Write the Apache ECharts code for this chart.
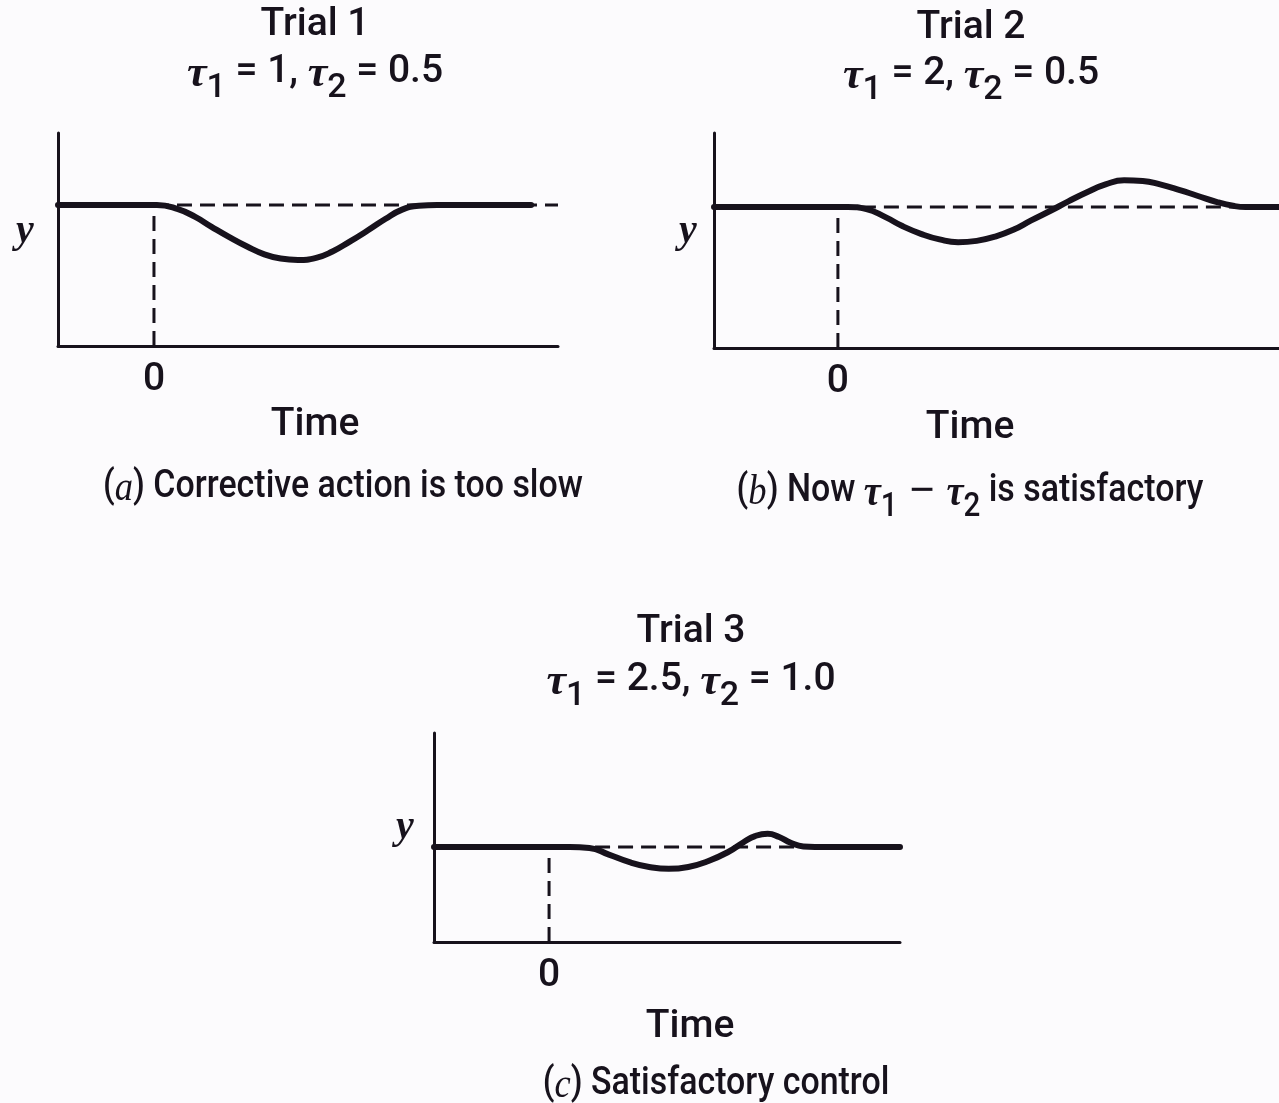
<!DOCTYPE html>
<html>
<head>
<meta charset="utf-8">
<title>Trial responses</title>
<script src="https://cdn.jsdelivr.net/npm/echarts@6/dist/echarts.min.js"></script>
<style>
html, body { margin: 0; padding: 0; background: #fcfbfd; }
#chart { width: 1279px; height: 1103px; }
</style>
</head>
<body>
<div id="chart"></div>
<script>
/* 数据：三次试验的响应曲线（设定值 = 0） */
var timeA = [-1, 0, 0.03, 0.25, 0.43, 0.6, 0.79, 0.97, 1.15, 1.32, 1.5, 1.69, 1.86, 2.04, 2.23, 2.41, 2.58, 2.76, 2.95, 3.93];
var respA = [0, 0, 0, -0.03, -0.085, -0.155, -0.23, -0.295, -0.35, -0.38, -0.39, -0.375, -0.33, -0.26, -0.18, -0.1, -0.035, -0.005, 0, 0];

var timeB = [-1, 0, 0.08, 0.23, 0.38, 0.52, 0.67, 0.82, 0.97, 1.12, 1.27, 1.42, 1.56, 1.72, 1.86, 2.01, 2.16, 2.31, 2.46, 2.6, 2.76, 2.9, 3.06, 3.2, 3.29, 3.56];
var respB = [0, 0, 0, -0.015, -0.07, -0.135, -0.19, -0.23, -0.25, -0.24, -0.21, -0.16, -0.095, -0.025, 0.04, 0.105, 0.16, 0.19, 0.185, 0.16, 0.12, 0.08, 0.035, 0.007, 0, 0];

var timeC = [-1, 0, 0.18, 0.35, 0.52, 0.7, 0.87, 1.04, 1.21, 1.38, 1.56, 1.69, 1.79, 1.9, 2.0, 2.1, 2.21, 2.31, 3.05];
var respC = [0, 0, 0, -0.01, -0.08, -0.16, -0.21, -0.23, -0.21, -0.15, -0.05, 0.05, 0.115, 0.14, 0.105, 0.045, 0.005, 0, 0];

// 设定值虚线的起止时间
var setSpanA = [0, 4.21];
var setSpanB = [0, 3.56];
var setSpanC = [0, 3.62];

var trialNames = ['Trial 1', 'Trial 2', 'Trial 3'];
var tau1 = ['1', '2', '2.5'];
var tau2 = ['0.5', '0.5', '1.0'];
var xTickLabels = ['0'];

var ink = '#17121c';
var sans = 'Roboto, "Liberation Sans", sans-serif';
var serif = '"Liberation Serif", "DejaVu Serif", serif';
var fsz = 39;
var fw = 500;

var chart = echarts.init(document.getElementById('chart'), null, { renderer: 'canvas' });

function pairs(t, v) {
  return t.map(function (x, i) { return [x, v[i]]; });
}

// 富文本样式
var rich = {
  n: { fontFamily: sans, fontWeight: fw, fontSize: fsz, fill: ink, color: ink, lineHeight: 48, verticalAlign: 'top' },
  t: { fontFamily: serif, fontStyle: 'italic', fontWeight: 'bold', fontSize: 44, fill: ink, color: ink, lineHeight: 48, verticalAlign: 'top' },
  m: { fontFamily: '"DejaVu Sans", sans-serif', fontSize: 38, fill: ink, color: ink, lineHeight: 48, verticalAlign: 'top' },
  s: { fontFamily: sans, fontWeight: fw, fontSize: 34, fill: ink, color: ink, lineHeight: 40, padding: [18, 0, 0, 0], verticalAlign: 'top' },
  i: { fontFamily: serif, fontStyle: 'italic', fontSize: 42, fill: ink, color: ink, lineHeight: 48, verticalAlign: 'top' }
};

function label(x, y, text, useRich, sx) {
  var style = {
    text: text,
    fill: ink,
    fontFamily: sans,
    fontWeight: fw,
    fontSize: fsz,
    align: 'center',
    verticalAlign: 'middle'
  };
  if (useRich) style.rich = rich;
  return { type: 'text', x: x, y: y, scaleX: sx || 1, silent: true, style: style };
}

function formula(i) {
  return '{t|τ}{s|1}{n| = ' + tau1[i] + ', }{t|τ}{s|2}{n| = ' + tau2[i] + '}';
}

var grids = [
  { left: 58, top: 133, width: 500, height: 213 },
  { left: 714, top: 133, width: 565, height: 215 },
  { left: 434, top: 733, width: 466, height: 209 }
];
var xMax = [4.21, 3.56, 3.05];
var yMax = [0.51, 0.525, 1.2];

var xAxes = [], yAxes = [];
for (var k = 0; k < 3; k++) {
  grids[k].containLabel = false;
  grids[k].outerBoundsMode = 'none';
  xAxes.push({
    type: 'value', gridIndex: k, min: -1, max: xMax[k], interval: 1,
    axisLine: { onZero: false, lineStyle: { color: ink, width: 3 } },
    axisTick: { show: false },
    splitLine: { show: false },
    axisLabel: {
      color: ink, fontFamily: sans, fontWeight: fw, fontSize: fsz, margin: 15,
      showMaxLabel: false,
      formatter: function (v) { return v === 0 ? xTickLabels[0] : ''; }
    }
  });
  yAxes.push({
    type: 'value', gridIndex: k, min: -1, max: yMax[k],
    axisLine: { show: true, onZero: false, lineStyle: { color: ink, width: 3 } },
    axisTick: { show: false },
    splitLine: { show: false },
    axisLabel: { show: false }
  });
}

var curves = [pairs(timeA, respA), pairs(timeB, respB), pairs(timeC, respC)];
var spans = [setSpanA, setSpanB, setSpanC];
var series = [];
for (var j = 0; j < 3; j++) {
  // 设定值虚线
  series.push({
    type: 'line', xAxisIndex: j, yAxisIndex: j, clip: false, silent: true,
    symbol: 'none', z: 2,
    data: [[spans[j][0], 0], [spans[j][1], 0]],
    lineStyle: { color: ink, width: 3, type: [15, 8] }
  });
  // t = 0 竖直虚线
  series.push({
    type: 'line', xAxisIndex: j, yAxisIndex: j, silent: true,
    symbol: 'none', z: 2,
    data: [[0, -1], [0, 0]],
    lineStyle: { color: ink, width: 3, type: [15, 8] }
  });
  // 响应曲线
  series.push({
    type: 'line', xAxisIndex: j, yAxisIndex: j, silent: true,
    symbol: 'none', smooth: 0.5, z: 5,
    data: curves[j],
    lineStyle: { color: ink, width: 6, cap: 'round', join: 'round' }
  });
}

var capScale = 0.87;
var graphics = [
  label(315, 25, trialNames[0]),
  label(315, 77, formula(0), true),
  label(971, 28, trialNames[1]),
  label(971, 79, formula(1), true),
  label(691, 632, trialNames[2]),
  label(691, 685, formula(2), true),

  label(315, 425, 'Time'),
  label(970, 428, 'Time'),
  label(690, 1027, 'Time'),

  label(343, 492, '{n|(}{i|a}{n|) Corrective action is too slow}', true, capScale),
  label(970, 496, '{n|(}{i|b}{n|) Now }{t|τ}{s|1}{m| − }{t|τ}{s|2}{n| is satisfactory}', true, capScale),
  label(716, 1089, '{n|(}{i|c}{n|) Satisfactory control}', true, capScale)
];
// y 轴标记
[[25, 232], [688, 232], [405, 828]].forEach(function (p) {
  graphics.push({
    type: 'text', x: p[0], y: p[1], silent: true,
    style: {
      text: 'y', fill: ink, fontFamily: serif, fontStyle: 'italic', fontWeight: 'bold',
      fontSize: 40, align: 'center', verticalAlign: 'middle'
    }
  });
});

chart.setOption({
  backgroundColor: '#fcfbfd',
  animation: false,
  grid: grids,
  xAxis: xAxes,
  yAxis: yAxes,
  series: series,
  graphic: graphics
});
</script>
</body>
</html>
